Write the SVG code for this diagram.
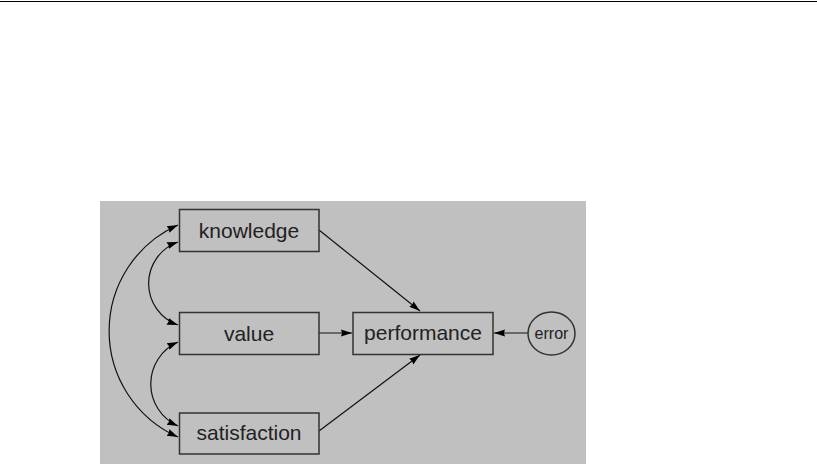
<svg xmlns="http://www.w3.org/2000/svg" width="817" height="464" viewBox="0 0 817 464">
<style>
.box{fill:none;stroke:#333;stroke-width:1.5}
.lbl{font-family:"Liberation Sans",Arial,sans-serif;font-size:21px;fill:#222;text-anchor:middle}
.edge{fill:none;stroke:#111;stroke-width:1.2}
</style>
<defs>
<marker id="ah" markerUnits="userSpaceOnUse" markerWidth="14" markerHeight="10" refX="11" refY="4" orient="auto-start-reverse" viewBox="0 0 14 8">
<path d="M0,0.5 L11,4 L0,7.5 L1,4 z" fill="#000"/>
</marker>
</defs>
<rect width="817" height="464" fill="#fff"/>
<line x1="0" y1="1.5" x2="817" y2="1.5" stroke="#000" stroke-width="1.2"/>
<rect x="100" y="201" width="486" height="263" fill="#c0c0c0"/>
<g id="connectors">
<line class="edge" x1="319" y1="230" x2="420" y2="311" marker-end="url(#ah)"/>
<line class="edge" x1="319" y1="333" x2="352" y2="333" marker-end="url(#ah)"/>
<line class="edge" x1="319" y1="431" x2="420" y2="355" marker-end="url(#ah)"/>
<line class="edge" x1="528" y1="333" x2="494" y2="333" marker-end="url(#ah)"/>
<path class="edge" d="M178,242 A44 44 0 0 0 178,325" marker-start="url(#ah)" marker-end="url(#ah)"/>
<path class="edge" d="M178,342 A46 46 0 0 0 178,426" marker-start="url(#ah)" marker-end="url(#ah)"/>
<path class="edge" d="M178,225 A116 116 0 0 0 178,437" marker-start="url(#ah)" marker-end="url(#ah)"/>
</g>
<g id="knowledge">
<rect class="box" x="179.5" y="209.5" width="139.5" height="42"/>
<text class="lbl" x="249" y="238">knowledge</text>
</g>
<g id="value">
<rect class="box" x="179.5" y="312.5" width="139.5" height="42"/>
<text class="lbl" x="249" y="341">value</text>
</g>
<g id="satisfaction">
<rect class="box" x="179.5" y="413" width="139.5" height="41"/>
<text class="lbl" x="249" y="440">satisfaction</text>
</g>
<g id="performance">
<rect class="box" x="353" y="312.5" width="140" height="42"/>
<text class="lbl" x="423" y="340">performance</text>
</g>
<g id="error">
<ellipse class="box" cx="551.5" cy="333.5" rx="23.5" ry="21.5"/>
<text class="lbl" x="551.5" y="339" style="font-size:16px">error</text>
</g>
</svg>
